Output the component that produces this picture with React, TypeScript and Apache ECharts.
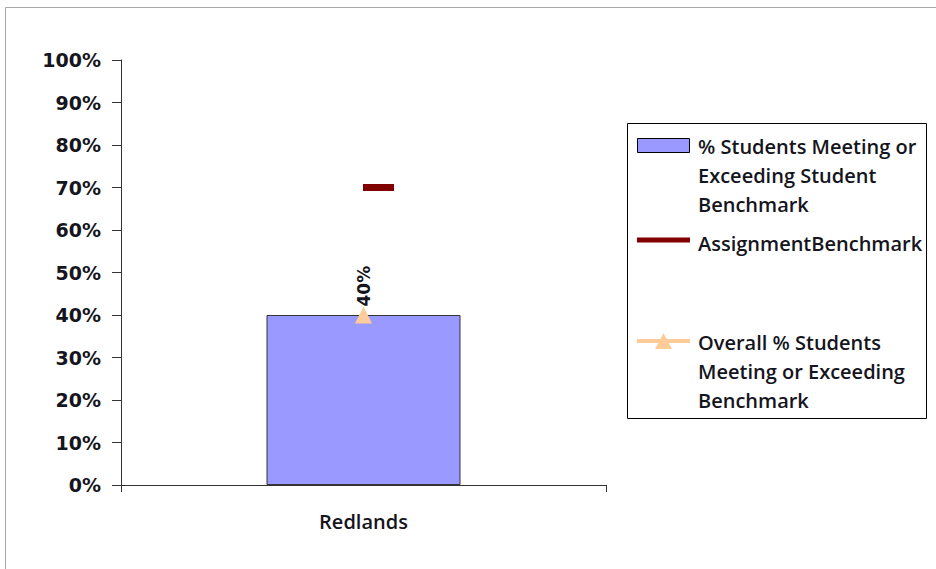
import React, { useEffect, useRef } from "react";
import * as echarts from "echarts";

const categories = ["Redlands"];
const studentsMeeting = [0.4];
const assignmentBenchmark = [0.7];
const overallMeeting = [0.4];
const yTicks = [0, 0.1, 0.2, 0.3, 0.4, 0.5, 0.6, 0.7, 0.8, 0.9, 1];

const seriesNames = [
  "% Students Meeting or\nExceeding Student\nBenchmark",
  "AssignmentBenchmark",
  "Overall % Students\nMeeting or Exceeding\nBenchmark",
];

const LEGEND_FONT = "'Open Sans', Lato, sans-serif";
const AXIS_FONT = "'DejaVu Sans', Verdana, sans-serif";

export default function App() {
  const ref = useRef<HTMLDivElement>(null);
  useEffect(() => {
    document.body.style.margin = "0";
    const chart = echarts.init(ref.current!, undefined, { renderer: "svg" });
    const textStyle = { fontFamily: LEGEND_FONT, fontSize: 20, fontWeight: 600, fill: "#151520" };
    chart.setOption({
      animation: false,
      backgroundColor: "#fff",
      grid: { left: 121, right: 330, top: 60, bottom: 84, containLabel: false },
      xAxis: {
        type: "category",
        data: categories,
        boundaryGap: true,
        axisLine: { lineStyle: { color: "#333", width: 1 } },
        axisTick: { show: true, length: 7, alignWithLabel: false, lineStyle: { color: "#333" } },
        axisLabel: { margin: 26, fontFamily: LEGEND_FONT, fontSize: 20, fontWeight: 600, color: "#151520" },
        splitLine: { show: false },
      },
      yAxis: {
        type: "value",
        min: yTicks[0],
        max: yTicks[yTicks.length - 1],
        interval: 0.1,
        axisLine: { show: true, lineStyle: { color: "#333", width: 1 } },
        axisTick: { show: true, length: 9, lineStyle: { color: "#333" } },
        splitLine: { show: false },
        axisLabel: {
          margin: 20,
          fontFamily: AXIS_FONT,
          fontWeight: "bold",
          fontSize: 19,
          color: "#151520",
          formatter: (v: number) => Math.round(v * 100) + "%",
        },
      },
      series: [
        {
          name: seriesNames[0],
          type: "bar",
          data: studentsMeeting,
          barWidth: 194,
          itemStyle: { color: "#9999FF", borderColor: "#333", borderWidth: 1 },
          z: 1,
        },
        {
          name: seriesNames[1],
          type: "scatter",
          data: assignmentBenchmark,
          symbol: "rect",
          symbolSize: [31, 7],
          symbolOffset: [15, 0],
          itemStyle: { color: "#800000", opacity: 1 },
          z: 3,
        },
        {
          name: seriesNames[2],
          type: "line",
          data: overallMeeting,
          symbol: "triangle",
          symbolSize: [17, 17],
          lineStyle: { color: "#FFCC99", width: 4 },
          itemStyle: { color: "#FFCC99", opacity: 1 },
          label: {
            show: true,
            position: "top",
            distance: 0,
            rotate: 90,
            align: "left",
            verticalAlign: "middle",
            fontFamily: AXIS_FONT,
            fontWeight: "bold",
            fontSize: 17,
            color: "#151520",
            formatter: (p: any) => Math.round(p.value * 100) + "%",
          },
          z: 4,
        },
      ],
      graphic: [
        {
          type: "rect",
          shape: { x: 5.5, y: 7.5, width: 1000, height: 1000 },
          style: { fill: "none", stroke: "#a8a8a8", lineWidth: 1 },
          silent: true,
          z: -10,
        },
        {
          type: "group",
          children: [
            { type: "rect", shape: { x: 627.5, y: 123.5, width: 299, height: 295 }, style: { fill: "#fff", stroke: "#000", lineWidth: 1 } },
            { type: "rect", shape: { x: 637.5, y: 138.5, width: 52, height: 14 }, style: { fill: "#9999FF", stroke: "#000", lineWidth: 1 } },
            { type: "text", x: 698, y: 131.5, style: { ...textStyle, text: seriesNames[0], lineHeight: 29, verticalAlign: "top" } },
            { type: "line", shape: { x1: 637, y1: 240, x2: 690, y2: 240 }, style: { stroke: "#800000", lineWidth: 5 } },
            { type: "text", x: 698, y: 228.5, style: { ...textStyle, text: seriesNames[1], lineHeight: 29, verticalAlign: "top" } },
            { type: "line", shape: { x1: 637, y1: 341, x2: 690, y2: 341 }, style: { stroke: "#FFCC99", lineWidth: 4 } },
            { type: "polygon", shape: { points: [[663.5, 333], [672, 349], [655, 349]] }, style: { fill: "#FFCC99" } },
            { type: "text", x: 698, y: 327.5, style: { ...textStyle, text: seriesNames[2], lineHeight: 29, verticalAlign: "top" } },
          ],
        },
      ],
    });
    return () => chart.dispose();
  }, []);
  return <div ref={ref} style={{ width: 936, height: 569 }} />;
}
